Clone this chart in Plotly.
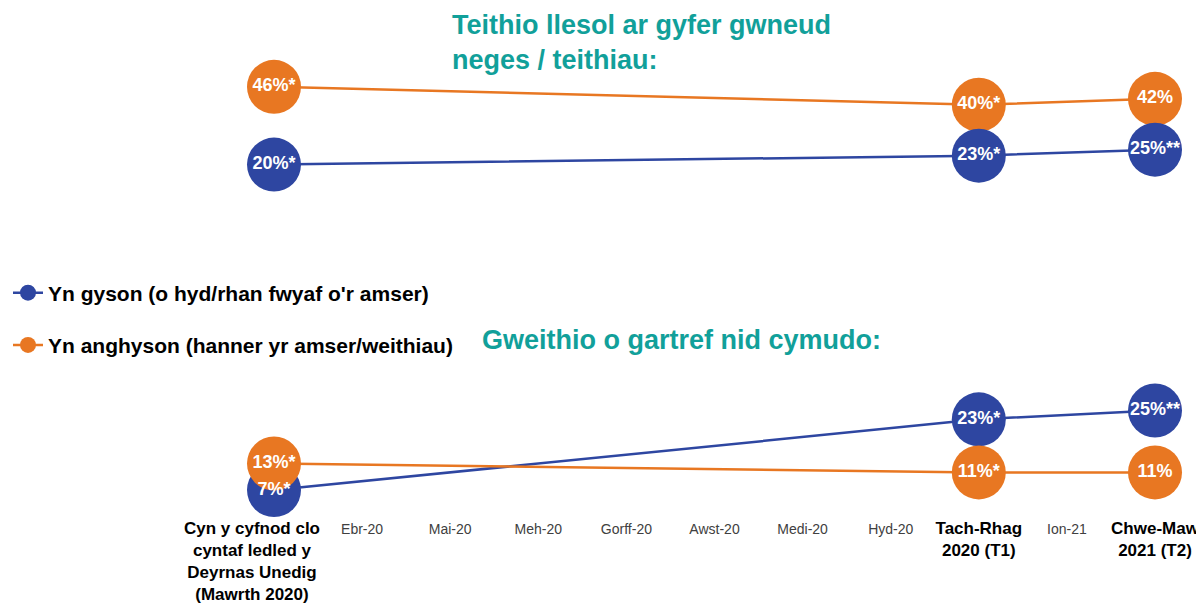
import plotly.graph_objects as go

# #0. Data

# x axis categories (survey waves are bold, months in between are small)
categories = [
    "Cyn y cyfnod clo<br>cyntaf ledled y<br>Deyrnas Unedig<br>(Mawrth 2020)",
    "Ebr-20", "Mai-20", "Meh-20", "Gorff-20", "Awst-20", "Medi-20", "Hyd-20",
    "Tach-Rhag<br>2020 (T1)", "Ion-21", "Chwe-Maw<br>2021 (T2)",
]
wave_idx = [0, 8, 10]

series_names = ["Yn gyson (o hyd/rhan fwyaf o'r amser)",
                "Yn anghyson (hanner yr amser/weithiau)"]

# Teithio llesol ar gyfer gwneud neges / teithiau
teithio_gyson = [20, 23, 25]
teithio_gyson_txt = ["20%*", "23%*", "25%**"]
teithio_anghyson = [46, 40, 42]
teithio_anghyson_txt = ["46%*", "40%*", "42%"]

# Gweithio o gartref nid cymudo
gartref_gyson = [7, 23, 25]
gartref_gyson_txt = ["7%*", "23%*", "25%**"]
gartref_anghyson = [13, 11, 11]
gartref_anghyson_txt = ["13%*", "11%*", "11%"]

# #1. Styles
blue = '#2E46A1'
orange = '#E87722'
teal = '#11A09A'
font_family = 'Liberation Sans, Arial, sans-serif'

# page body has an 8px margin, so the figure is 8px smaller than the window
W, H = 1196, 597
bottom_margin = 89
plot_h = H - bottom_margin

# pixel (from top of figure) of the zero line and px per percentage point
bottom_zero, bottom_scale, bottom_top = 513, 4.42, 292
top_zero, top_scale = 216.4, 2.99

# the long first label sits a bit left of its point
tick_pos = list(range(len(categories)))
tick_pos[0] = -0.25

ticktext = []
for i, c in enumerate(categories):
    if i in wave_idx:
        ticktext.append('<b>' + c + '</b>')
    else:
        ticktext.append('<span style="font-size:14px;color:#404040">' + c + '</span>')


def series(y, color, yaxis, name, legend):
    return go.Scatter(
        x=wave_idx, y=y, yaxis=yaxis,
        mode='lines+markers',
        line=dict(color=color, width=2.5),
        marker=dict(color=color, size=54),
        name=name, legendgroup=name, showlegend=legend,
        cliponaxis=False, hoverinfo='skip'
    )


def labels(y, txt, yaxis):
    return go.Scatter(
        x=wave_idx, y=y, yaxis=yaxis, mode='text',
        text=txt, textposition='middle center',
        textfont=dict(color='white', size=18, family=font_family, weight='bold'),
        showlegend=False, cliponaxis=False, hoverinfo='skip'
    )


fig = go.Figure()
# top panel: orange first, blue on top
fig.add_trace(series(teithio_anghyson, orange, 'y2', series_names[1], False))
fig.add_trace(series(teithio_gyson, blue, 'y2', series_names[0], False))
# bottom panel: blue first, orange on top
fig.add_trace(series(gartref_gyson, blue, 'y', series_names[0], True))
fig.add_trace(series(gartref_anghyson, orange, 'y', series_names[1], True))
# value labels on top of every circle
fig.add_trace(labels(teithio_anghyson, teithio_anghyson_txt, 'y2'))
fig.add_trace(labels(teithio_gyson, teithio_gyson_txt, 'y2'))
fig.add_trace(labels(gartref_gyson, gartref_gyson_txt, 'y'))
fig.add_trace(labels(gartref_anghyson, gartref_anghyson_txt, 'y'))

fig.update_layout(
    width=W, height=H,
    margin=dict(l=0, r=0, t=0, b=bottom_margin),
    paper_bgcolor='white', plot_bgcolor='white',
    font=dict(family=font_family, color='black'),
    xaxis=dict(
        range=[-266 / 88.1, (W - 266) / 88.1],
        tickmode='array', tickvals=tick_pos, ticktext=ticktext,
        tickfont=dict(size=17, color='black'), tickangle=0,
        showgrid=False, zeroline=False, showline=False, ticks='',
        automargin=False, fixedrange=True,
    ),
    yaxis=dict(domain=[0, (plot_h - bottom_top) / plot_h],
               range=[(bottom_zero - plot_h) / bottom_scale, (bottom_zero - bottom_top) / bottom_scale],
               visible=False, fixedrange=True),
    yaxis2=dict(domain=[(plot_h - top_zero) / plot_h, 1], range=[0, top_zero / top_scale],
                anchor='x', visible=False, fixedrange=True),
    legend=dict(
        x=0, y=(plot_h - 264.5) / plot_h, xanchor='left', yanchor='top',
        traceorder='grouped', tracegroupgap=22,
        font=dict(size=21, color='black', weight='bold'),
        bgcolor='rgba(0,0,0,0)',
    ),
    showlegend=True,
    annotations=[
        dict(text='Teithio llesol ar gyfer gwneud<br>neges / teithiau:',
             xref='paper', yref='paper', x=442 / W, y=1.0,
             xanchor='left', yanchor='top', align='left', showarrow=False,
             font=dict(size=27, color=teal, weight='bold')),
        dict(text='Gweithio o gartref nid cymudo:',
             xref='paper', yref='paper', x=472 / W, y=(plot_h - 332) / plot_h,
             xanchor='left', yanchor='middle', align='left', showarrow=False,
             font=dict(size=27, color=teal, weight='bold')),
    ],
)

fig.write_html("out.html")
